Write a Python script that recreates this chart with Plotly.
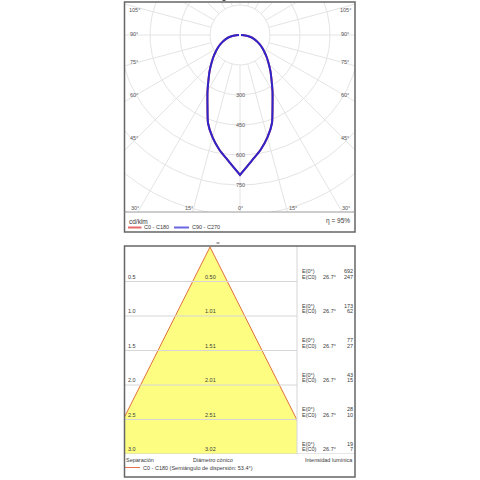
import numpy as np
import plotly.graph_objects as go

# ---------------- data ----------------
gamma_deg = [0, 5, 10, 15, 20, 25, 30, 35, 40, 45, 50, 55, 60, 65, 70, 75, 80, 85, 90]
cd_c0_c180 = [700, 635, 585, 530, 468, 385, 325, 275, 237, 203, 175, 150, 128, 108, 88, 70, 50, 27, 5]
cd_c90_c270 = [700, 635, 585, 530, 468, 385, 325, 275, 237, 203, 175, 150, 128, 108, 88, 70, 50, 27, 5]
ring_values = [150, 300, 450, 600, 750, 900, 1050]
ring_labels = [300, 450, 600, 750]
spoke_angles = list(range(0, 360, 15))
side_angle_labels = ["105°", "90°", "75°", "60°", "45°", "30°"]
bottom_angle_labels = ["15°", "0°", "15°"]
polar_unit = "cd/klm"
efficiency = "η = 95%"
series_names = ["C0 - C180", "C90 - C270"]

heights = [0.5, 1.0, 1.5, 2.0, 2.5, 3.0]
cone_diam = [0.50, 1.01, 1.51, 2.01, 2.51, 3.02]
e_0 = [692, 173, 77, 43, 28, 19]
e_c0 = [247, 62, 27, 15, 10, 7]
half_angle = 26.7
table_headers = ["Separación", "Diámetro cónico", "Intensidad lumínica"]

# ---------------- helpers ----------------
FONT = "Liberation Sans, Arial, sans-serif"
TXT = "#3a3a3a"


def px(x):
    return x / 480.0


def py(y):
    return 1 - y / 480.0


def note(text, x, y, xref="paper", yref="paper", xanchor="center", size=5.5, color=TXT, yshift=0):
    return dict(text=text, x=x, y=y, xref=xref, yref=yref, xanchor=xanchor, yanchor="middle",
                yshift=yshift, showarrow=False, font=dict(size=size, color=color, family=FONT))


fig = go.Figure()

# ---------------- upper polar diagram (cartesian) ----------------
S = 0.2  # px per cd
cx, cy = 240, 35
xr = [-(cx - 125) / S, (355 - cx) / S]
yr = [-(212 - cy) / S, (cy - 2) / S]

t = np.linspace(0, 2 * np.pi, 721)
rx, ry = [], []
for r in ring_values:
    rx += list(r * np.sin(t)) + [None]
    ry += list(r * np.cos(t)) + [None]
fig.add_trace(go.Scatter(x=rx, y=ry, mode="lines", line=dict(color="#e4e4e4", width=1),
                         hoverinfo="skip", xaxis="x", yaxis="y"))

sx, sy = [], []
for a in spoke_angles:
    ar = np.deg2rad(a)
    sx += [150 * np.sin(ar), 1300 * np.sin(ar), None]
    sy += [-150 * np.cos(ar), -1300 * np.cos(ar), None]
fig.add_trace(go.Scatter(x=sx, y=sy, mode="lines", line=dict(color="#e4e4e4", width=1),
                         hoverinfo="skip", xaxis="x", yaxis="y"))


def curve(vals):
    g = np.deg2rad(np.array(gamma_deg, dtype=float))
    v = np.array(vals, dtype=float)
    x = np.concatenate([-(v * np.sin(g))[::-1], v * np.sin(g)])
    y = np.concatenate([-(v * np.cos(g))[::-1], -(v * np.cos(g))])
    return x, y


x0c, y0c = curve(cd_c0_c180)
x9c, y9c = curve(cd_c90_c270)
fig.add_trace(go.Scatter(x=x0c, y=y0c, mode="lines", line=dict(color="#e04848", width=2, shape="spline", smoothing=0.5),
                         hoverinfo="skip", xaxis="x", yaxis="y"))
fig.add_trace(go.Scatter(x=x9c, y=y9c, mode="lines", line=dict(color="#2c24cc", width=2, shape="spline", smoothing=0.5),
                         hoverinfo="skip", xaxis="x", yaxis="y"))

ann = []
for r in ring_labels:
    ann.append(note(str(r), 0, -r, xref="x", yref="y", color="#555"))

side_y = [10, 34, 62, 95, 138]
for lab, yy in zip(side_angle_labels[:-1], side_y):
    ann.append(note(lab, px(134), py(yy), color="#555"))
    ann.append(note(lab, px(345), py(yy), color="#555"))
for lab, xx in zip([side_angle_labels[-1]] + bottom_angle_labels + [side_angle_labels[-1]],
                   [135, 188.5, 240, 293, 346]):
    ann.append(note(lab, px(xx), py(208.5), color="#555"))

# upper legend
ann.append(note(polar_unit, px(127), py(221), xanchor="left", size=6.5))
ann.append(note(series_names[0], px(142), py(227.5), xanchor="left"))
ann.append(note(series_names[1], px(190), py(227.5), xanchor="left"))
ann.append(note(efficiency, px(352), py(221), xanchor="right", size=6.5))

# ---------------- lower cone diagram ----------------
K = 69.0  # px per metre
apex_x, apex_y = 210, 247
x2r = [-(apex_x - 125) / K, (297 - apex_x) / K]
y2r = [(454 - apex_y) / K, -(apex_y - 246) / K]

hmax = heights[-1]
hw = hmax * np.tan(np.deg2rad(half_angle))
fig.add_trace(go.Scatter(x=[0, -hw, hw, 0], y=[0, hmax, hmax, 0], mode="lines", fill="toself",
                         fillcolor="#fdfd82", line=dict(width=0), hoverinfo="skip",
                         xaxis="x2", yaxis="y2"))
fig.add_trace(go.Scatter(x=[-hw, 0, hw], y=[hmax, 0, hmax], mode="lines",
                         line=dict(color="#e0703c", width=1), hoverinfo="skip",
                         xaxis="x2", yaxis="y2"))

shapes = []
for h in heights[:-1]:
    shapes.append(dict(type="line", xref="x2 domain", x0=0, x1=1, yref="y2", y0=h, y1=h,
                       line=dict(color="#d6d6d6", width=1), layer="above"))
# bottom separator of table across full width
shapes.append(dict(type="line", xref="paper", x0=px(124.5), x1=px(355), yref="y2", y0=hmax, y1=hmax,
                   line=dict(color="#cfcfcf", width=1), layer="above"))
# vertical separator
shapes.append(dict(type="line", xref="paper", x0=px(297), x1=px(297), yref="paper", y0=py(246), y1=py(454),
                   line=dict(color="#d6d6d6", width=1), layer="above"))

for h, d, a, b in zip(heights, cone_diam, e_0, e_c0):
    ann.append(note(f"{h:.1f}", px(126), h, yref="y2", xanchor="left", yshift=5))
    ann.append(note(f"{d:.2f}", 0, h, xref="x2", yref="y2", yshift=5))
    ann.append(note("E(0°)", px(299.5), h, yref="y2", xanchor="left", yshift=10.5))
    ann.append(note("E(C0)", px(299.5), h, yref="y2", xanchor="left", yshift=5))
    ann.append(note(f"{half_angle}°", px(320.5), h, yref="y2", xanchor="left", yshift=5))
    ann.append(note(str(a), px(355), h, yref="y2", xanchor="right", yshift=10.5))
    ann.append(note(str(b), px(355), h, yref="y2", xanchor="right", yshift=5))

# lower legend
ann.append(note(table_headers[0], px(124), py(460), xanchor="left"))
ann.append(note(table_headers[1], px(191), py(460), xanchor="left"))
ann.append(note(table_headers[2], px(355), py(460), xanchor="right"))
ann.append(note(f"{series_names[0]} (Semiángulo de dispersión: {2 * half_angle:.1f}°)",
                px(141), py(467.5), xanchor="left"))

# legend line samples
shapes.append(dict(type="line", xref="paper", yref="paper", x0=px(128), x1=px(141.5), y0=py(227.5), y1=py(227.5),
                   line=dict(color="#e86a6a", width=2)))
shapes.append(dict(type="line", xref="paper", yref="paper", x0=px(174), x1=px(189), y0=py(227.5), y1=py(227.5),
                   line=dict(color="#6a66e0", width=2)))
shapes.append(dict(type="line", xref="paper", yref="paper", x0=px(125), x1=px(140), y0=py(467.5), y1=py(467.5),
                   line=dict(color="#e87050", width=1)))

# boxes
shapes.append(dict(type="rect", xref="paper", yref="paper", x0=px(124.5), x1=px(355), y0=py(232), y1=py(2),
                   line=dict(color="#666", width=1.5)))
shapes.append(dict(type="line", xref="paper", yref="paper", x0=px(124.5), x1=px(355), y0=py(212), y1=py(212),
                   line=dict(color="#9a9a9a", width=1)))
shapes.append(dict(type="rect", xref="paper", yref="paper", x0=px(124.5), x1=px(355), y0=py(477), y1=py(246),
                   line=dict(color="#666", width=1.5)))
# tiny marks above boxes
shapes.append(dict(type="line", xref="paper", yref="paper", x0=px(222.5), x1=px(225.5), y0=py(0.5), y1=py(0.5),
                   line=dict(color="#555", width=1)))
shapes.append(dict(type="line", xref="paper", yref="paper", x0=px(216.5), x1=px(219.5), y0=py(243), y1=py(243),
                   line=dict(color="#555", width=1)))

ax_common = dict(showgrid=False, zeroline=False, showticklabels=False, showline=False, ticks="", fixedrange=True)
fig.update_layout(
    width=480, height=480, margin=dict(l=0, r=0, t=0, b=0),
    paper_bgcolor="white", plot_bgcolor="white", showlegend=False,
    xaxis=dict(domain=[px(125), px(355)], range=xr, anchor="y", **ax_common),
    yaxis=dict(domain=[py(212), py(2)], range=yr, anchor="x", **ax_common),
    xaxis2=dict(domain=[px(125), px(297)], range=x2r, anchor="y2", **ax_common),
    yaxis2=dict(domain=[py(454), py(246)], range=y2r, anchor="x2", **ax_common),
    annotations=ann, shapes=shapes,
)

fig.write_html("out.html",
               post_script="document.body.style.margin='0';document.body.style.padding='0';"
                           "document.body.style.overflow='hidden';",
               config={"displayModeBar": False})
